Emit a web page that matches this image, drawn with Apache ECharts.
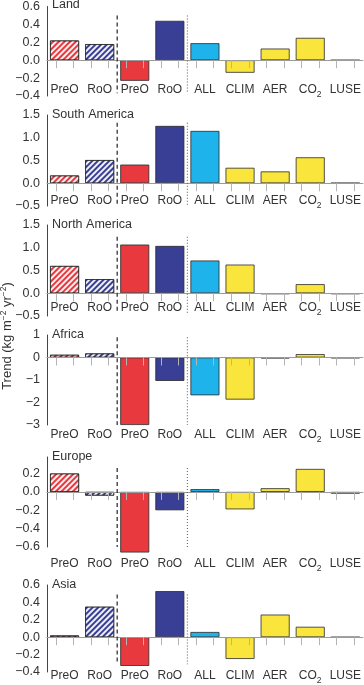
<!DOCTYPE html>
<html><head><meta charset="utf-8">
<script src="https://cdn.jsdelivr.net/npm/echarts@6/dist/echarts.min.js"></script>
<style>html,body{margin:0;padding:0;background:#fff}#c{width:364px;height:685px}</style>
</head><body><div id="c"></div>
<script>
// ---- data ----
const categories = ['PreO', 'RoO', 'PreO', 'RoO', 'ALL', 'CLIM', 'AER', 'CO2', 'LUSE'];
const regions = ['Land', 'South America', 'North America', 'Africa', 'Europe', 'Asia'];
const land         = [0.22, 0.18, -0.23, 0.44, 0.19, -0.14, 0.13, 0.25, 0.0];
const southAmerica = [0.17, 0.51, 0.41, 1.26, 1.15, 0.34, 0.26, 0.57, 0.006];
const northAmerica = [0.60, 0.31, 1.07, 1.04, 0.72, 0.63, -0.02, 0.20, -0.02];
const africa       = [0.12, 0.18, -3.0, -1.04, -1.68, -1.87, -0.04, 0.15, -0.03];
const europe       = [0.20, -0.04, -0.66, -0.20, 0.03, -0.19, 0.04, 0.25, -0.02];
const asia         = [0.02, 0.35, -0.33, 0.53, 0.06, -0.25, 0.26, 0.12, 0.0];
const yMin  = [-0.4, -0.5, -0.5, -3, -0.6, -0.4];
const yMax  = [0.6, 1.5, 1.5, 1, 0.38, 0.6];
const yStep = [0.2, 0.5, 0.5, 1, 0.2, 0.2];
const yDecimals = [1, 1, 1, 0, 1, 1];
const yTitle = 'Trend (kg m{s|\u22122} yr{s|\u22122})';

// ---- layout / style ----
const values = [land, southAmerica, northAmerica, africa, europe, asia];
const FONT = '"Liberation Sans", Arial, Helvetica, sans-serif';
const gridTop = [5, 115, 225, 335, 457, 585];
const gridHeight = [91, 91, 91, 90, 90, 90];
const labelMargin = [-3, -2, -5, 13, 20, 7];
const sepSpan = [[0.5, -0.37], [1.33, -0.5], [1.24, -0.43], [0.9, -3], [0.26, -0.6], [0.49, -0.31]];
const RED = '#E8393E', NAVY = '#393F95', CYAN = '#1FB3EB', YELLOW = '#F9E53B';
const barColors = [RED, NAVY, RED, NAVY, CYAN, YELLOW, YELLOW, YELLOW, YELLOW];
const hatched = [true, true, false, false, false, false, false, false, false];
const tickCats = Array.from({length: 18}, (_, i) => 't' + i);
const HATCH = {symbol: 'rect', symbolSize: 1, color: 'rgba(255,255,255,0.92)',
               dashArrayX: [1, 0], dashArrayY: [2, 2], rotation: -Math.PI / 4};

const grids = [], xAxes = [], yAxes = [], series = [], graphics = [];
values.forEach((vals, i) => {
  grids.push({left: 47, width: 316, top: gridTop[i], height: gridHeight[i]});
  const base = xAxes.length;
  xAxes.push({
    type: 'category', gridIndex: i, data: categories, position: 'bottom',
    axisLine: {show: false, onZero: false}, axisTick: {show: false},
    axisLabel: {
      interval: 0, margin: labelMargin[i], verticalAlign: 'middle', color: '#333',
      formatter: v => v === 'CO2' ? '{m|CO}{s|2}' : '{m|' + v + '}',
      rich: {
        m: {fontSize: 12, lineHeight: 18, verticalAlign: 'top', color: '#333', fontFamily: FONT},
        s: {fontSize: 8.5, lineHeight: 9, padding: [6, 0, 0, 0], verticalAlign: 'top', color: '#333', fontFamily: FONT}
      }
    },
    splitLine: {show: false}
  });
  xAxes.push({
    type: 'category', gridIndex: i, data: tickCats, position: 'bottom', z: 3,
    axisLine: {show: true, onZero: true, lineStyle: {color: '#9a9a9a', width: 1}},
    axisTick: {show: true, alignWithLabel: true, interval: 0, length: 8, lineStyle: {color: '#b4b4b4', width: 1}},
    axisLabel: {show: false}, splitLine: {show: false}
  });
  xAxes.push({type: 'value', gridIndex: i, min: 0, max: 9, show: false});
  yAxes.push({
    type: 'value', gridIndex: i, min: yMin[i], max: yMax[i], interval: yStep[i],
    axisLine: {show: true, onZero: false, lineStyle: {color: '#444', width: 1}},
    axisTick: {show: false}, splitLine: {show: false},
    axisLabel: {
      color: '#333', fontSize: 12.5, fontFamily: FONT, margin: 7,
      formatter: v => {
        const k = v / yStep[i];
        if (Math.abs(k - Math.round(k)) > 1e-6) return '';
        let s = v.toFixed(yDecimals[i]);
        if (Math.abs(v) < 1e-9) s = (0).toFixed(yDecimals[i]);
        return s.replace('-', '\u2212');
      }
    }
  });
  series.push({
    type: 'bar', xAxisIndex: base, yAxisIndex: i, barWidth: 29, clip: false, z: 2,
    data: vals.map((v, j) => {
      const st = {color: barColors[j], borderColor: '#2a2a2a', borderWidth: 0.8};
      if (hatched[j]) st.decal = HATCH;
      return {value: v, itemStyle: st};
    })
  });
  series.push({
    type: 'line', xAxisIndex: base + 2, yAxisIndex: i, symbol: 'none', silent: true, z: 4,
    data: [[2, sepSpan[i][0]], [2, sepSpan[i][1]]],
    lineStyle: {color: '#333', width: 1.3, type: [4, 3]}
  });
  series.push({
    type: 'line', xAxisIndex: base + 2, yAxisIndex: i, symbol: 'none', silent: true, z: 4,
    data: [[4, sepSpan[i][0]], [4, sepSpan[i][1]]],
    lineStyle: {color: '#666', width: 1.1, type: [1, 2]}
  });
  graphics.push({
    type: 'text', x: 52, y: gridTop[i], z: 10,
    style: {text: regions[i], fontSize: 12.5, fontFamily: FONT, fill: '#333', verticalAlign: 'middle', align: 'left'}
  });
});
graphics.push({
  type: 'text', x: 7, y: 336, rotation: Math.PI / 2, z: 10,
  style: {
    text: yTitle, fontSize: 13, lineHeight: 16, fontFamily: FONT, fill: '#333', align: 'center', verticalAlign: 'middle',
    rich: {s: {fontSize: 8.5, lineHeight: 9, verticalAlign: 'top', fontFamily: FONT, fill: '#333'}}
  }
});

const chart = echarts.init(document.getElementById('c'), null, {renderer: 'canvas'});
chart.setOption({
  animation: false,
  backgroundColor: '#fff',
  grid: grids, xAxis: xAxes, yAxis: yAxes, series: series, graphic: graphics
});
</script></body></html>
